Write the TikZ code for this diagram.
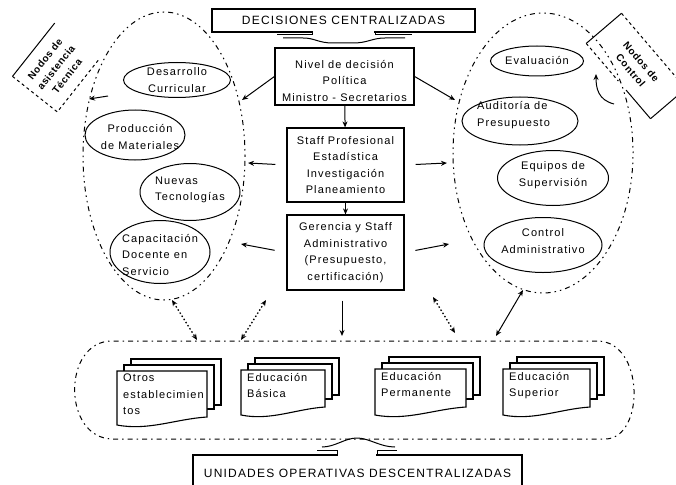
\documentclass[tikz,border=0pt]{standalone}
\usepackage{fontspec}
\setmainfont{Liberation Sans}
\newfontfamily\df{Liberation Sans}[LetterSpace=10]
\newfontfamily\dfb{Liberation Sans Bold}[LetterSpace=6]
\usetikzlibrary{shapes.geometric,arrows.meta,calc}
\newcommand\docstack[7]{%
 \draw[docline, fill=white] ({#2+14},{#3-12}) rectangle ({#2+#4+14},{#3+#5-12});
 \draw[docline, fill=white] ({#2+7},{#3-6}) rectangle ({#2+#4+7},{#3+#5-8});
 \draw[docline, fill=white] (#2,#3) -- ({#2+#4},#3) -- ({#2+#4},{#3+#5})
   .. controls ({#2+0.65*#4},{#3+#5+2}) and ({#2+0.35*#4},{#3+#6+6}) .. (#2,{#3+#6}) -- cycle;
 \node[txt, align=left, anchor=north west] (#1) at ({#2+6},{#3+3}) {#7};
}
\begin{document}
\begin{tikzpicture}[x=1pt,y=-1pt,
  txt/.style={font=\df\fontsize{11}{16.5}\selectfont, align=center, inner sep=0pt},
  box/.style={txt, draw, line width=1.2pt},
  oval/.style={ellipse, draw, line width=1pt, inner sep=0pt},
  banner/.style={draw, line width=1.2pt, font=\df\fontsize{12}{14}\selectfont, inner sep=0pt},
  tagtxt/.style={font=\dfb\fontsize{10}{14}\selectfont, align=center, inner sep=0pt},
  bigdot/.style={line width=1pt, dash pattern=on 1.5pt off 4pt on 1.5pt off 4pt on 5pt off 4pt},
  frame/.style={line width=1pt, dash pattern=on 5pt off 4pt on 1.5pt off 4pt},
  conn/.style={line width=1pt},
  docline/.style={line width=1.1pt},
  tip/.style={-{Stealth[length=6pt,width=5pt]}},
  dtip/.style={{Stealth[length=6pt,width=5pt]}-{Stealth[length=6pt,width=5pt]}},
  dots/.style={line width=1.3pt, dash pattern=on 1.5pt off 2.2pt}
]
\clip (0,0) rectangle (676,484);
\fill[white] (0,0) rectangle (676,484);

% big dotted groups
\draw[bigdot] (164,156) ellipse [x radius=81pt, y radius=144pt];
\draw[bigdot] (543,153) ellipse [x radius=90pt, y radius=140pt];

% banners
\node[banner, minimum width=263pt, minimum height=23pt] (topb) at (343.5,20.5) {DECISIONES CENTRALIZADAS};
\fill[white] (313,30) rectangle (374,34);
\draw[conn] (312,31.5) -- (312,35) -- (277,35);
\draw[conn] (375,31.5) -- (375,35) -- (412,35);
\draw[conn] (283,38) -- (303,38) .. controls (315,38) and (318,43) .. (333,43) -- (353,43)
  .. controls (368,43) and (372,38) .. (385,38) -- (405,38);

\node[banner, minimum width=329pt, minimum height=36pt] (botb) at (357.5,473) {UNIDADES OPERATIVAS DESCENTRALIZADAS};
\fill[white] (338,453) rectangle (376,457);
\draw[conn] (337,455.5) -- (337,450) -- (317,450);
\draw[conn] (377,455.5) -- (377,450) -- (397,450);
\draw[conn] (322,447) .. controls (335,447) and (345,438) .. (357,438)
  .. controls (369,438) and (380,447) .. (395,447);

% central boxes
\node[box, minimum width=139pt, minimum height=57pt] (n1) at (344.5,76.5) {\rule{0pt}{17pt}Nivel de decisión\\Política\\Ministro - Secretarios};
\node[box, minimum width=117pt, minimum height=74pt] (n2) at (345.5,165) {Staff Profesional\\Estadística\\Investigación\\Planeamiento};
\node[box, minimum width=117pt, minimum height=75pt] (n3) at (345.5,252.5) {Gerencia y Staff\\Administrativo\\(Presupuesto,\\certificación)};

% left ovals
\node[oval, minimum width=107pt, minimum height=35pt] (des) at (177,80) {};
\node[txt] (destxt) at (des) {Desarrollo\\Curricular};
\node[oval, minimum width=100pt, minimum height=50pt] (prod) at (135,135) {};
\node[txt] (prodtxt) at (140,137) {Producción\\de Materiales};
\node[oval, minimum width=100pt, minimum height=57pt] (nue) at (190,192) {};
\node[txt, align=left, anchor=west] (nuetxt) at (155,190) {Nuevas\\Tecnologías};
\node[oval, minimum width=100pt, minimum height=63pt] (cap) at (160,252) {};
\node[txt, align=left, anchor=west] (captxt) at (122,255) {Capacitación\\Docente en\\Servicio};

% right ovals
\node[oval, minimum width=93pt, minimum height=30pt] (eva) at (537,61) {};
\node[txt] (evatxt) at (eva) {Evaluación};
\node[oval, minimum width=116pt, minimum height=48pt] (aud) at (520,121) {};
\node[txt, align=left, anchor=west] (audtxt) at (477,115) {Auditoría de\\Presupuesto};
\node[oval, minimum width=111pt, minimum height=55pt] (equ) at (553,178) {};
\node[txt] (equtxt) at (553,175) {Equipos de\\Supervisión};
\node[oval, minimum width=118pt, minimum height=55pt] (con) at (543,245) {};
\node[txt] (contxt) at (543,241) {Control\\Administrativo};

% tags
\node[tagtxt, rotate=51.6, minimum width=67.6pt, minimum height=56.8pt] (tagL) at (56,67.5) {Nodos de\\asistencia\\Técnica};
\draw[conn] (tagL.north west) -- (tagL.north east);
\draw[conn, dashed] (tagL.north west) -- (tagL.south west) -- (tagL.south east);

\node[tagtxt, rotate=-49.5, minimum width=98.6pt, minimum height=46pt] (tagR) at (636,66) {Nodos de\\Control};
\draw[conn] (tagR.south west) -- (tagR.north west);
\draw[conn, dashed] (tagR.north west) -- (tagR.north east);
\draw[conn] (tagR.north east) -- (tagR.south east);
\draw[conn, dashed] (tagR.south west) -- ($(tagR.south west)!0.5!(tagR.south east)$);
\draw[conn] ($(tagR.south west)!0.62!(tagR.south east)$) -- (tagR.south east);

% connector coordinates
\coordinate (L1) at (242,100);
\coordinate (R1) at (455,100);
\coordinate (L2) at (248,163);
\coordinate (R2) at (447,163);
\coordinate (L3) at (241,244);
\coordinate (R3) at (449,244);
\coordinate (B3) at (342,336);
\coordinate (d1) at (108,96);
\coordinate (t1) at (89,99);
\coordinate (rc1) at (614,104);
\coordinate (rc2) at (596,74);

\draw[conn, tip] (n1.west) -- (L1);
\draw[conn, tip] (n1.east) -- (R1);
\draw[conn, tip, shorten <=11pt] (n2.west) -- (L2);
\draw[conn, tip, shorten <=11pt] (n2.east) -- (R2);
\draw[conn, tip, shorten <=12pt] (n3.west) -- (L3);
\draw[conn, tip, shorten <=11pt] (n3.east) -- (R3);
\draw[conn, tip] (n1) -- (n2);
\draw[conn, tip] (n2) -- (n3);
\draw[conn, tip, shorten <=10pt] (n3.south -| B3) -- (B3);
\draw[conn, tip] (d1) -- (t1);
\draw[conn, tip] (rc1) .. controls (598,100) and (596,88) .. (rc2);

% lower frame
\draw[frame] (597,341) -- (112,341) .. controls (62,341) and (62,439) .. (113,439)
  -- (605,439) .. controls (645,439) and (645,341) .. (597,341);

% arrows to lower frame
\coordinate (a1s) at (172,300); \coordinate (a1e) at (197,340);
\coordinate (a2s) at (266,300); \coordinate (a2e) at (241,340);
\coordinate (a4s) at (433,297); \coordinate (a4e) at (455,333);
\coordinate (a5s) at (523,290); \coordinate (a5e) at (496,336);
\draw[dots, dtip] (a1s) -- (a1e);
\draw[dots, dtip] (a2s) -- (a2e);
\draw[dots, dtip] (a4s) -- (a4e);
\draw[conn, dtip] (a5s) -- (a5e);

% document stacks
\docstack{otros}{117}{371}{90}{46}{54}{Otros\\establecimien\\tos}
\docstack{basica}{241}{370}{84}{37}{45}{Educación\\Básica}
\docstack{perm}{375}{369}{91}{38}{46}{Educación\\Permanente}
\docstack{sup}{503}{369}{87}{38}{46}{Educación\\Superior}
\end{tikzpicture}
\end{document}
